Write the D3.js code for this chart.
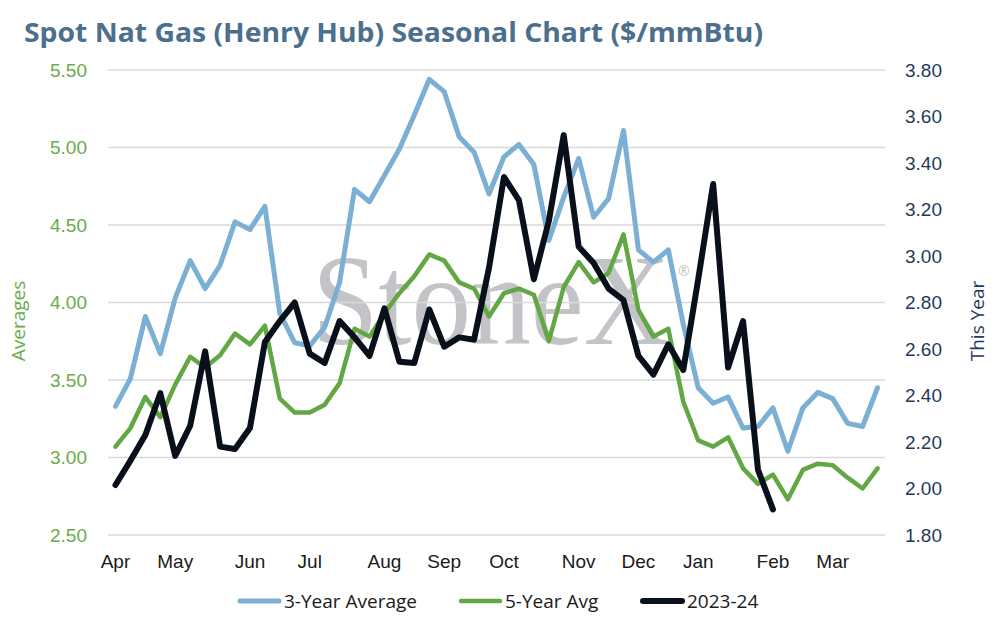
<!DOCTYPE html>
<html lang="en">
<head>
<meta charset="UTF-8">
<title>Spot Nat Gas Seasonal Chart</title>
<script src="https://cdn.jsdelivr.net/npm/d3@7/dist/d3.min.js"></script>
<style>
    body { margin: 0; background: #ffffff; }
    svg { display: block; font-family: 'Open Sans', 'Lato', sans-serif; }
</style>
</head>
<body>
<svg id="chart" width="993" height="617"></svg>
<script>
// weekly points, Apr -> Mar (52 weeks)
const weeks = d3.range(52);
const monthLabels = ["Apr", "May", "Jun", "Jul", "Aug", "Sep", "Oct", "Nov", "Dec", "Jan", "Feb", "Mar"];
const monthWeeks = [0, 4, 9, 13, 18, 22, 26, 31, 35, 39, 44, 48];

// left axis ($/mmBtu)
const threeYearAvg = [3.33, 3.51, 3.91, 3.67, 4.03, 4.27, 4.09, 4.24, 4.52, 4.47,
    4.62, 3.93, 3.74, 3.72, 3.84, 4.13, 4.73, 4.65, 4.82, 4.99,
    5.21, 5.44, 5.36, 5.07, 4.97, 4.70, 4.94, 5.02, 4.89, 4.40,
    4.68, 4.93, 4.55, 4.67, 5.11, 4.34, 4.26, 4.34, 3.86, 3.45,
    3.35, 3.39, 3.19, 3.20, 3.32, 3.04, 3.32, 3.42, 3.38, 3.22,
    3.20, 3.45];
const fiveYearAvg = [3.07, 3.19, 3.39, 3.26, 3.47, 3.65, 3.58, 3.66, 3.80, 3.73,
    3.85, 3.38, 3.29, 3.29, 3.34, 3.48, 3.83, 3.78, 3.93, 4.06,
    4.17, 4.31, 4.27, 4.13, 4.09, 3.91, 4.06, 4.09, 4.05, 3.75,
    4.10, 4.26, 4.13, 4.19, 4.44, 3.95, 3.78, 3.83, 3.36, 3.11,
    3.07, 3.13, 2.93, 2.83, 2.89, 2.73, 2.92, 2.96, 2.95, 2.87,
    2.80, 2.93];
// right axis (this year)
const year2023 = [2.015, 2.12, 2.23, 2.41, 2.14, 2.27, 2.59, 2.18, 2.17, 2.26,
    2.63, 2.72, 2.80, 2.58, 2.54, 2.72, 2.65, 2.57, 2.775, 2.545,
    2.54, 2.77, 2.61, 2.65, 2.64, 2.95, 3.34, 3.24, 2.90, 3.15,
    3.52, 3.04, 2.97, 2.86, 2.81, 2.57, 2.49, 2.62, 2.51, 2.90,
    3.31, 2.52, 2.72, 2.08, 1.91];

const leftTicks = [2.5, 3.0, 3.5, 4.0, 4.5, 5.0, 5.5];
const rightTicks = d3.range(1.8, 3.81, 0.2);

const svg = d3.select("#chart");
const plotLeft = 108, plotRight = 885, plotTop = 70, plotBottom = 535;

const x = d3.scaleBand().domain(weeks).range([plotLeft, plotRight]);
const xc = i => x(i) + x.bandwidth() / 2;
const yL = d3.scaleLinear().domain([2.5, 5.5]).range([plotBottom, plotTop]);
const yR = d3.scaleLinear().domain([1.8, 3.8]).range([plotBottom, plotTop]);

// title
svg.append("text")
    .attr("x", 24).attr("y", 42)
    .attr("font-size", 26).attr("font-weight", 700)
    .attr("textLength", 739).attr("lengthAdjust", "spacingAndGlyphs")
    .attr("fill", "#4b6f8c")
    .text("Spot Nat Gas (Henry Hub) Seasonal Chart ($/mmBtu)");

// watermark
const mark = svg.append("text")
    .attr("x", 312).attr("y", 344)
    .attr("font-family", "'Liberation Serif', 'DejaVu Serif', serif")
    .attr("font-size", 130)
    .attr("fill", "#c4c4c8");
mark.append("tspan")
    .attr("textLength", 358).attr("lengthAdjust", "spacingAndGlyphs")
    .text("StoneX");
mark.append("tspan")
    .attr("font-family", "'Open Sans', sans-serif")
    .attr("font-size", 14).attr("dx", 8).attr("dy", -68)
    .text("\u00AE");

// gridlines
svg.append("g")
    .selectAll("line")
    .data(leftTicks)
    .join("line")
    .attr("x1", plotLeft).attr("x2", plotRight)
    .attr("y1", d => yL(d)).attr("y2", d => yL(d))
    .attr("stroke", "#d9d9d9").attr("stroke-width", 1.5);

// left axis
const gL = svg.append("g")
    .attr("transform", `translate(${plotLeft - 21},0)`)
    .call(d3.axisLeft(yL).tickValues(leftTicks).tickFormat(d3.format(".2f")).tickSize(0).tickPadding(0));
gL.select(".domain").remove();
gL.selectAll("text").attr("font-size", 19).attr("fill", "#6aac47").attr("font-family", null);

// right axis
const gR = svg.append("g")
    .attr("transform", `translate(${plotRight + 20},0)`)
    .call(d3.axisRight(yR).tickValues(rightTicks).tickFormat(d3.format(".2f")).tickSize(0).tickPadding(0));
gR.select(".domain").remove();
gR.selectAll("text").attr("font-size", 19).attr("fill", "#1f3a5c").attr("font-family", null);

// x axis
const gX = svg.append("g")
    .attr("transform", `translate(0,${plotBottom})`)
    .call(d3.axisBottom(x).tickValues(monthWeeks)
        .tickFormat(d => monthLabels[monthWeeks.indexOf(d)]).tickSize(0).tickPadding(20));
gX.select(".domain").remove();
gX.selectAll("text").attr("font-size", 19).attr("fill", "#1a1a1a").attr("font-family", null);

// axis titles
svg.append("text")
    .attr("transform", "translate(25,321) rotate(-90)")
    .attr("text-anchor", "middle")
    .attr("font-size", 19).attr("fill", "#6aac47")
    .text("Averages");
svg.append("text")
    .attr("transform", "translate(984,321) rotate(-90)")
    .attr("text-anchor", "middle")
    .attr("font-size", 19).attr("fill", "#1f3a5c")
    .text("This Year");

// lines
const series = [
    { name: "3-Year Average", values: threeYearAvg, y: yL, color: "#7bafd4", width: 5 },
    { name: "5-Year Avg", values: fiveYearAvg, y: yL, color: "#62a744", width: 4.5 },
    { name: "2023-24", values: year2023, y: yR, color: "#0a101b", width: 6 }
];

series.forEach(s => {
    const line = d3.line()
        .x((d, i) => xc(i))
        .y(d => s.y(d));
    svg.append("path")
        .datum(s.values)
        .attr("d", line)
        .attr("fill", "none")
        .attr("stroke", s.color)
        .attr("stroke-width", s.width)
        .attr("stroke-linejoin", "round")
        .attr("stroke-linecap", "round");
});

// legend
const legendX = [237, 458, 640];
const legend = svg.append("g");
series.forEach((s, i) => {
    legend.append("line")
        .attr("x1", legendX[i] + 3).attr("x2", legendX[i] + 42)
        .attr("y1", 601).attr("y2", 601)
        .attr("stroke", s.color).attr("stroke-width", s.width)
        .attr("stroke-linecap", "round");
    legend.append("text")
        .attr("x", legendX[i] + 47).attr("y", 608)
        .attr("font-size", 19).attr("fill", "#1a1a1a")
        .text(s.name);
});
</script>
</body>
</html>
